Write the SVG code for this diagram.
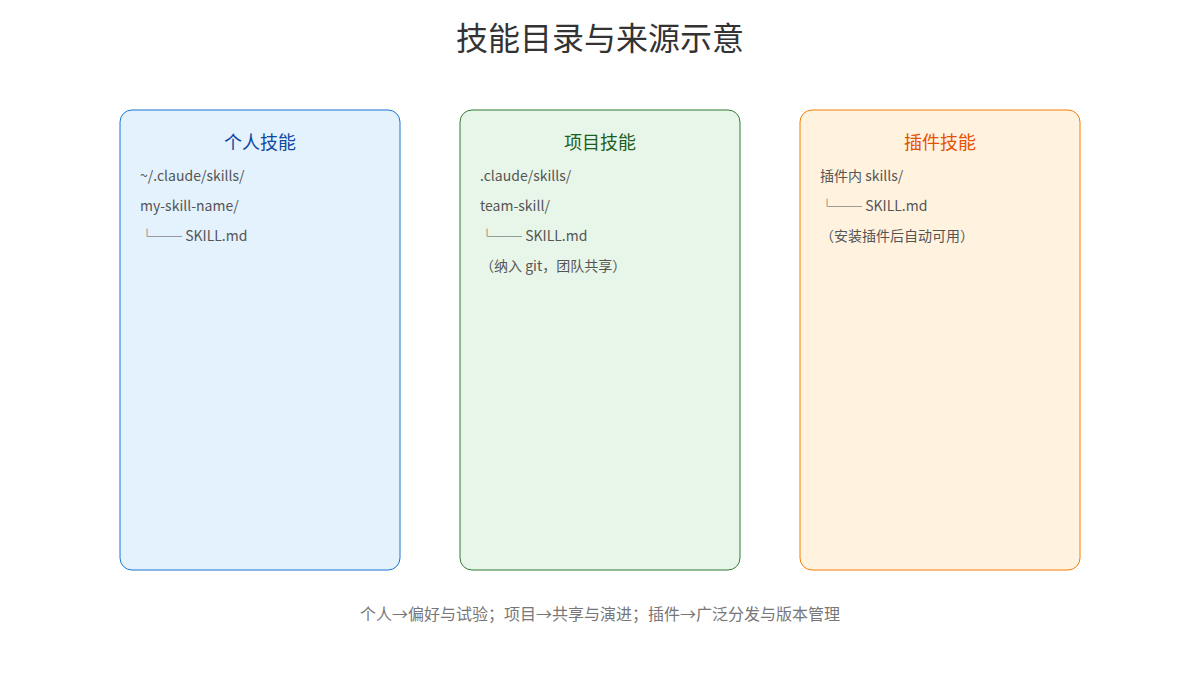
<svg xmlns="http://www.w3.org/2000/svg" width="1200" height="680" viewBox="0 0 1200 680">
<style>
text{font-family:"Noto Sans CJK SC","Noto Sans",sans-serif;}
.title{font-size:32px;fill:#333;text-anchor:middle;}
.h{font-size:18px;text-anchor:middle;}
.t{font-size:14px;fill:#555;}
.foot{font-size:16px;fill:#777;text-anchor:middle;}
</style>
<rect width="1200" height="680" fill="#ffffff"/>
<text class="title" x="600" y="50">技能目录与来源示意</text>
<g id="personal">
<rect x="120" y="110" width="280" height="460" rx="12" fill="#e3f2fd" stroke="#1976d2" stroke-width="1"/>
<text class="h" x="260" y="149" fill="#0d47a1">个人技能</text>
<text class="t" x="140" y="181">~/.claude/skills/</text>
<text class="t" x="140" y="211">my-skill-name/</text>
<text class="t" x="140" y="241"> └── SKILL.md</text>
</g>
<g id="project">
<rect x="460" y="110" width="280" height="460" rx="12" fill="#e8f5e9" stroke="#2e7d32" stroke-width="1"/>
<text class="h" x="600" y="149" fill="#1b5e20">项目技能</text>
<text class="t" x="480" y="181">.claude/skills/</text>
<text class="t" x="480" y="211">team-skill/</text>
<text class="t" x="480" y="241"> └── SKILL.md</text>
<text class="t" x="480" y="271">（纳入 git，团队共享）</text>
</g>
<g id="plugin">
<rect x="800" y="110" width="280" height="460" rx="12" fill="#fff3e0" stroke="#f57c00" stroke-width="1"/>
<text class="h" x="940" y="149" fill="#e65100">插件技能</text>
<text class="t" x="820" y="181">插件内 skills/</text>
<text class="t" x="820" y="211"> └── SKILL.md</text>
<text class="t" x="820" y="241">（安装插件后自动可用）</text>
</g>
<g id="connectors"></g>
<text class="foot" x="600" y="620">个人→偏好与试验；项目→共享与演进；插件→广泛分发与版本管理</text>
</svg>
